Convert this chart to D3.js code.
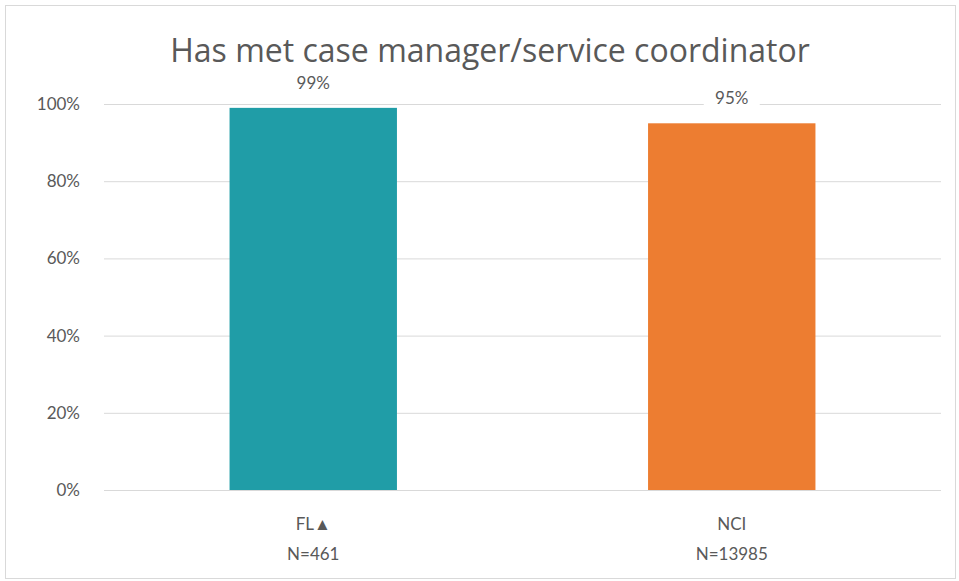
<!DOCTYPE html>
<html>
<head>
<meta charset="utf-8">
<script src="https://cdn.jsdelivr.net/npm/d3@7"></script>
<style>
  html, body { margin: 0; padding: 0; background: #fff; }
  svg { display: block; }
  text { font-family: Lato, "Open Sans", sans-serif; fill: #595959; }
</style>
</head>
<body>
<svg id="chart" width="959" height="581"></svg>
<script>
// Chart content
const title = "Has met case manager/service coordinator";
const categories = ["FL\u25B2", "NCI"];
const sampleSizes = ["N=461", "N=13985"];
const values = [0.99, 0.95];
const colors = ["#209DA7", "#ED7D31"];
const yTicks = [0, 0.2, 0.4, 0.6, 0.8, 1.0];

const svg = d3.select("#chart");
const W = 959, H = 581;
const margin = { top: 104, right: 18, bottom: 91, left: 104 };

// Outer frame
svg.append("rect")
  .attr("x", 5.5).attr("y", 5.5)
  .attr("width", W - 9).attr("height", H - 8)
  .attr("fill", "#fff").attr("stroke", "#D9D9D9").attr("stroke-width", 1);

const x = d3.scaleBand()
  .domain(categories)
  .range([margin.left, W - margin.right])
  .padding(0);

const y = d3.scaleLinear()
  .domain([0, 1])
  .range([H - margin.bottom, margin.top]);

const barWidth = x.bandwidth() * 0.4;

// Gridlines and percentage labels
const yAxis = d3.axisLeft(y)
  .tickValues(yTicks)
  .tickFormat(d3.format(".0%"))
  .tickSize(-(W - margin.right - margin.left))
  .tickPadding(24);

const gy = svg.append("g")
  .attr("transform", `translate(${margin.left},0)`)
  .call(yAxis);
gy.select(".domain").remove();
gy.selectAll(".tick line").attr("stroke", "#D9D9D9").attr("stroke-width", 1);
gy.selectAll(".tick text")
  .attr("font-size", 17)
  .style("font-family", "Lato, sans-serif")
  .attr("fill", "#595959");

// Bars
svg.append("g").selectAll("rect")
  .data(categories)
  .join("rect")
  .attr("x", (d) => x(d) + (x.bandwidth() - barWidth) / 2)
  .attr("y", (d, i) => y(values[i]))
  .attr("width", barWidth)
  .attr("height", (d, i) => y(0) - y(values[i]))
  .attr("fill", (d, i) => colors[i]);

// Value labels with white backing so the gridline is cut behind them
const fmt = d3.format(".0%");
const vl = svg.append("g").selectAll("g")
  .data(categories)
  .join("g")
  .attr("transform", (d, i) => `translate(${x(d) + x.bandwidth() / 2},${y(values[i]) - 19})`);
vl.append("rect")
  .attr("x", -28).attr("y", -16).attr("width", 56).attr("height", 24)
  .attr("fill", "#fff");
vl.append("text")
  .attr("text-anchor", "middle")
  .attr("font-size", 17)
  .text((d, i) => fmt(values[i]));

// Category labels
const xl = svg.append("g").selectAll("g")
  .data(categories)
  .join("g")
  .attr("transform", (d) => `translate(${x(d) + x.bandwidth() / 2},0)`);
xl.append("text")
  .attr("y", 530)
  .attr("text-anchor", "middle")
  .attr("font-size", 17)
  .text((d) => d);
xl.append("text")
  .attr("y", 560)
  .attr("text-anchor", "middle")
  .attr("font-size", 17)
  .text((d, i) => sampleSizes[i]);

// Title
svg.append("text")
  .attr("x", 490)
  .attr("y", 62)
  .attr("text-anchor", "middle")
  .attr("font-size", 32)
  .style("font-family", "'Open Sans', sans-serif")
  .text(title);
</script>
</body>
</html>
